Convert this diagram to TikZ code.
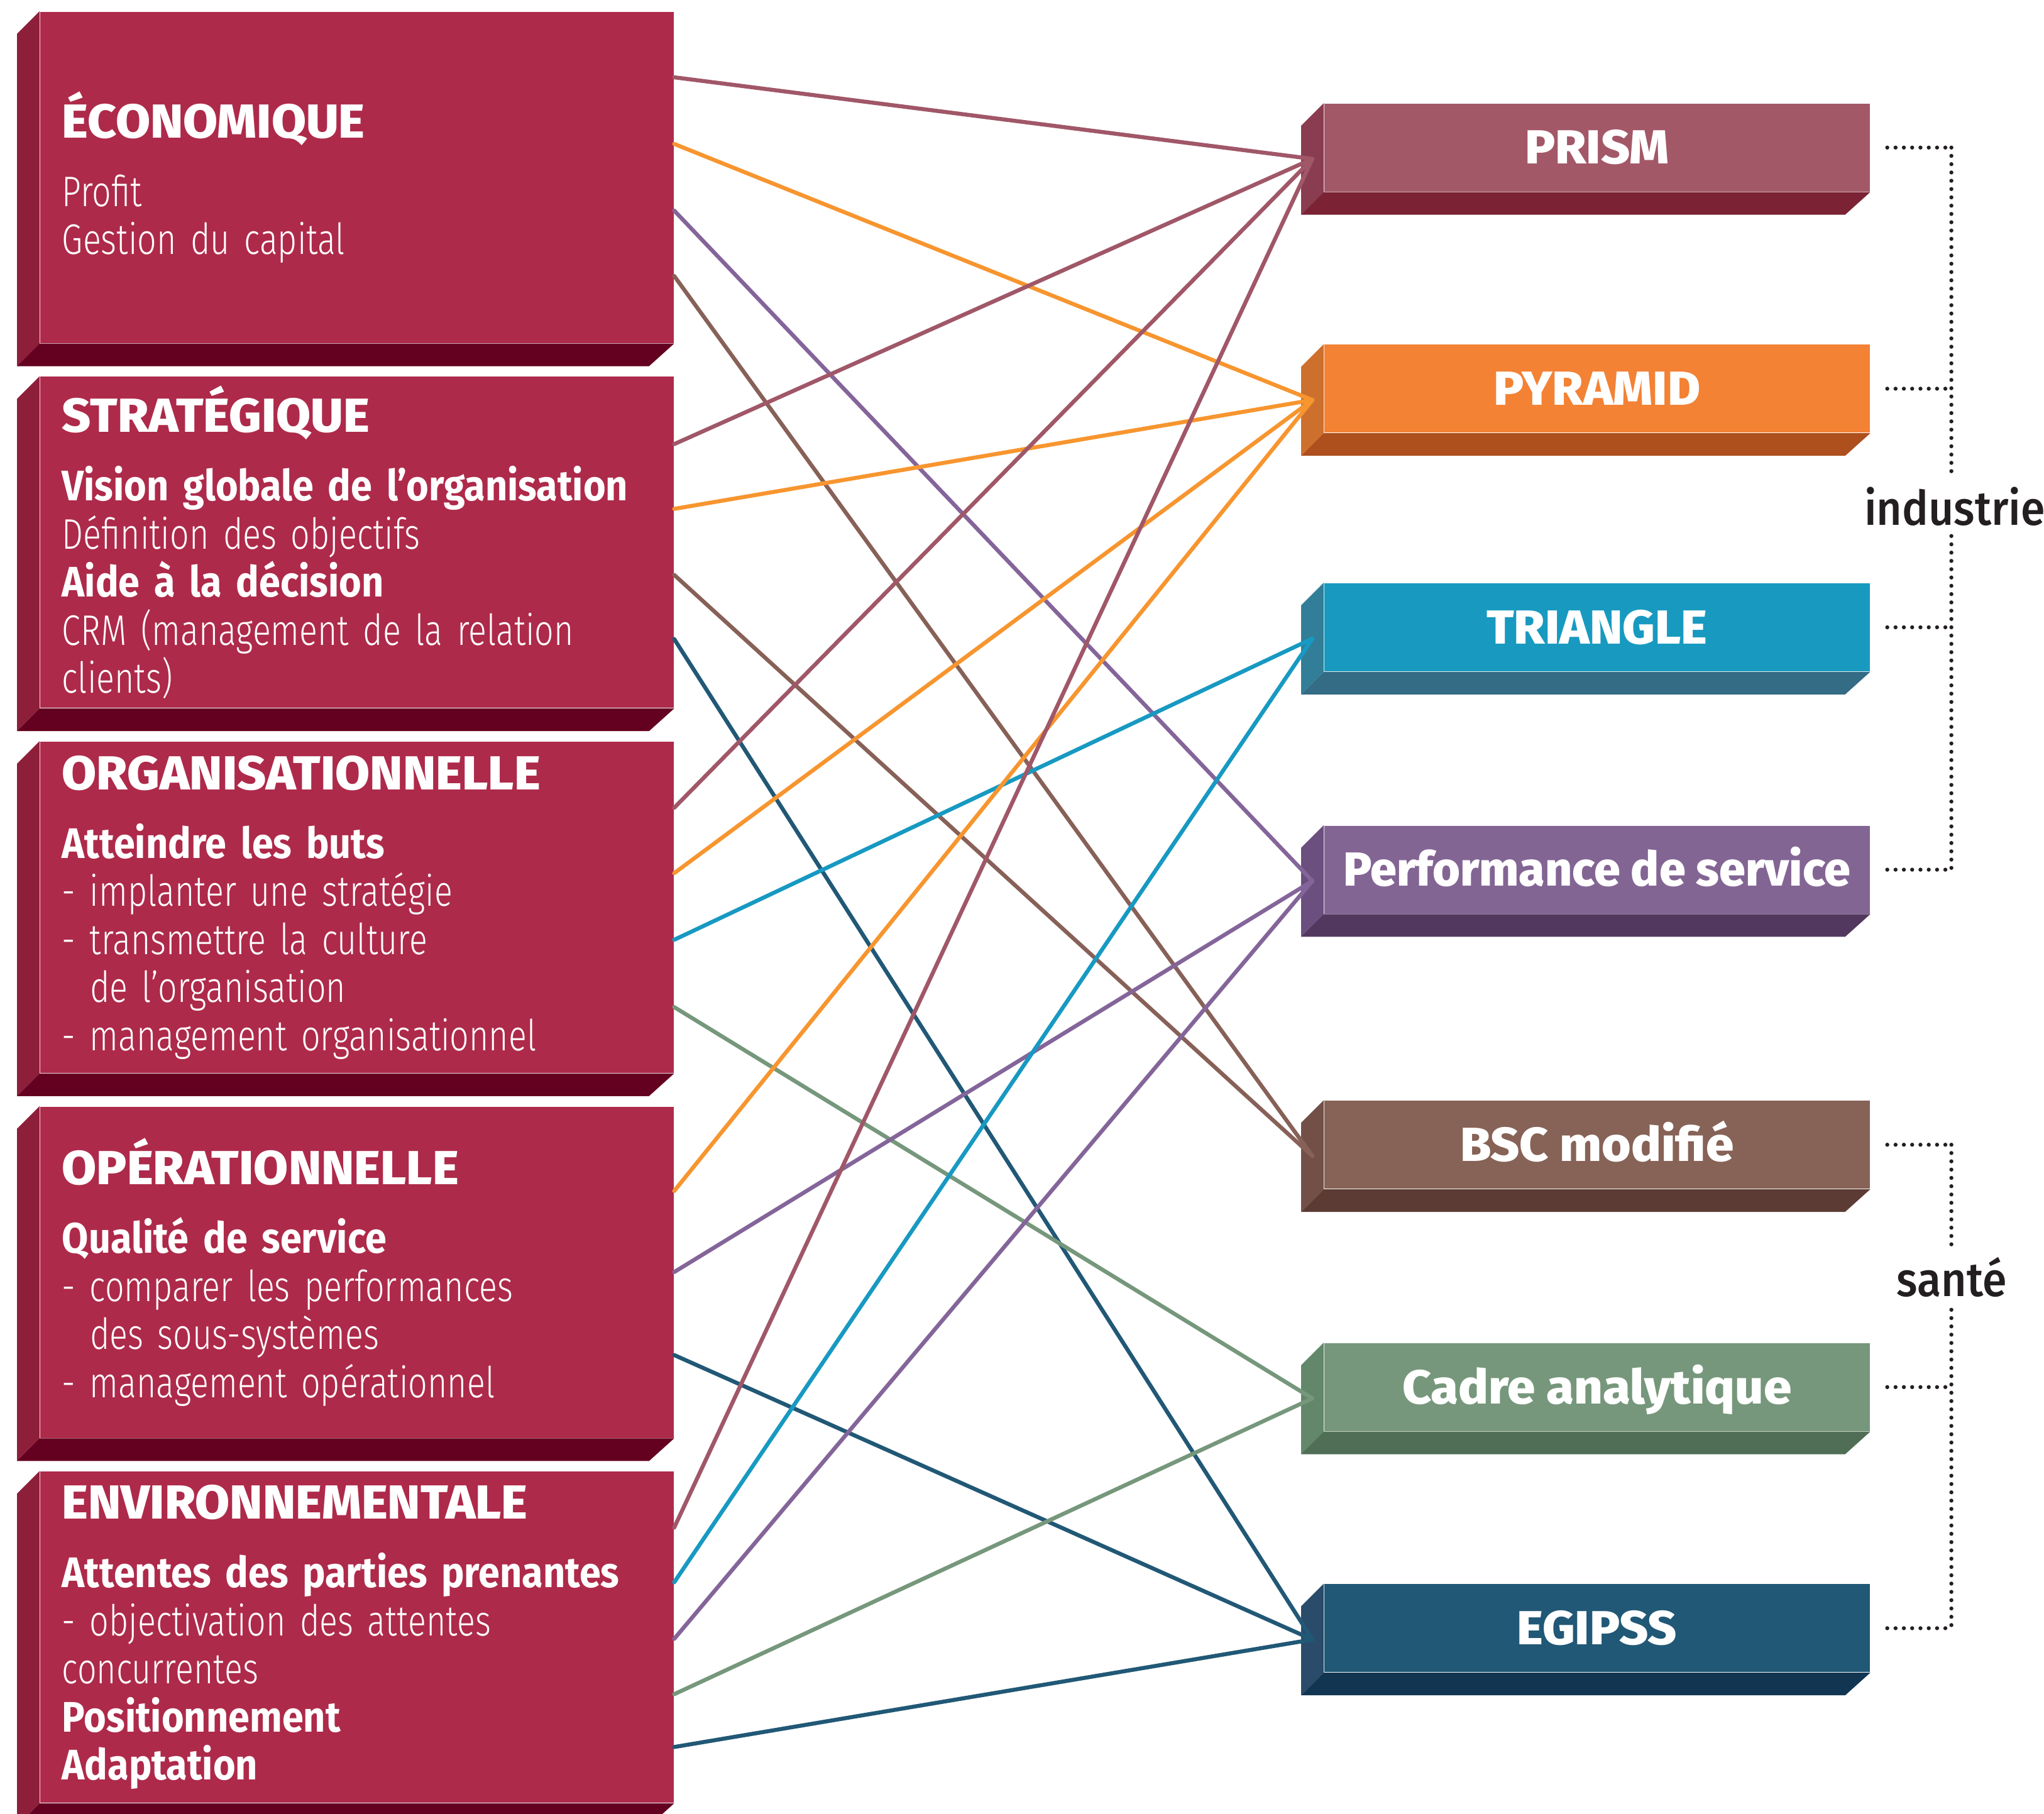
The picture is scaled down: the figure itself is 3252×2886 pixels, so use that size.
\documentclass[tikz,border=0pt]{standalone}
\usepackage{fontspec}
\usepackage{tikz}
\usetikzlibrary{positioning, calc}

\setmainfont{Fira Sans Light}[FakeStretch=0.79]
\IfFontExistsTF{Fira Sans Heavy}
  {\newfontfamily\headfont{Fira Sans Heavy}[FakeStretch=1.0]}
  {\newfontfamily\headfont{Fira Sans ExtraBold}[FakeStretch=1.05]}
\newfontfamily\keyfont{Fira Sans Bold}[FakeStretch=0.9]
\newfontfamily\sectorfont{Fira Sans Medium}[FakeStretch=0.92]

% colours of the blocks: front, side, bottom
\definecolor{dimFront}{HTML}{AE2A4A}
\definecolor{dimSide}{HTML}{8E1F3B}
\definecolor{dimBottom}{HTML}{640020}
\definecolor{prismFront}{HTML}{A35868}
\definecolor{prismSide}{HTML}{8A3D50}
\definecolor{prismBottom}{HTML}{7B2334}
\definecolor{pyramidFront}{HTML}{F38235}
\definecolor{pyramidSide}{HTML}{CE702D}
\definecolor{pyramidBottom}{HTML}{AE4F1E}
\definecolor{triangleFront}{HTML}{189AC0}
\definecolor{triangleSide}{HTML}{327E98}
\definecolor{triangleBottom}{HTML}{346B85}
\definecolor{perfFront}{HTML}{836594}
\definecolor{perfSide}{HTML}{6B4F7E}
\definecolor{perfBottom}{HTML}{52385F}
\definecolor{bscFront}{HTML}{876257}
\definecolor{bscSide}{HTML}{725048}
\definecolor{bscBottom}{HTML}{5B3B33}
\definecolor{cadreFront}{HTML}{76977B}
\definecolor{cadreSide}{HTML}{62876A}
\definecolor{cadreBottom}{HTML}{4F6E55}
\definecolor{egipssFront}{HTML}{215876}
\definecolor{egipssSide}{HTML}{2A4B6A}
\definecolor{egipssBottom}{HTML}{123652}
% colours of the links
\definecolor{prismLine}{HTML}{A05768}
\definecolor{pyramidLine}{HTML}{F7952F}
\definecolor{triangleLine}{HTML}{1799C2}
\definecolor{perfLine}{HTML}{84659A}
\definecolor{bscLine}{HTML}{876158}
\definecolor{cadreLine}{HTML}{76977B}
\definecolor{egipssLine}{HTML}{215876}
\definecolor{dotGrey}{HTML}{231F20}

\newcommand{\dimhead}[1]{{\headfont\fontsize{19}{19.125}\selectfont #1}\\[8.125pt]}
\newcommand{\keyline}[1]{{\keyfont #1}}

\tikzstyle{dimBox} = [rectangle, fill=dimFront, text=white, align=left,
   minimum height=131.75pt, text width=234.5pt, inner xsep=8.75pt,
   inner ysep=0pt, font=\fontsize{17}{19.125}\selectfont]
\tikzstyle{modelBox} = [rectangle, text=white, minimum width=217pt,
   minimum height=35pt, inner sep=0pt, text height=13.1pt, text depth=0pt,
   font=\headfont\fontsize{19}{19}\selectfont]
\tikzstyle{link} = [line width=1.6pt, line cap=round]
\tikzstyle{dotLine} = [dotGrey, line width=1.6pt, line cap=round,
   dash pattern=on 0pt off 3.3pt]
\tikzstyle{sector} = [text=dotGrey, inner sep=0pt,
   font=\sectorfont\fontsize{19}{19}\selectfont]

\begin{document}
\begin{tikzpicture}[x=0.25pt, y=-0.25pt]
  \useasboundingbox (0,0) rectangle (3252,2886);

  % dimensions
  \node[dimBox, anchor=north west] (eco) at (63,18) {\dimhead{ÉCONOMIQUE}
    Profit\\
    Gestion du capital};
  \node[dimBox, below=13pt of eco] (strat) {\dimhead{STRATÉGIQUE}
    \keyline{Vision globale de l’organisation}\\
    Définition des objectifs\\
    \keyline{Aide à la décision}\\
    CRM (management de la relation\\
    clients)};
  \node[dimBox, below=13pt of strat] (orga) {\dimhead{ORGANISATIONNELLE}
    \keyline{Atteindre les buts}\\
    - implanter une stratégie\\
    - transmettre la culture\\
    \hphantom{- }de l’organisation\\
    - management organisationnel};
  \node[dimBox, below=13pt of orga] (oper) {\dimhead{OPÉRATIONNELLE}
    \keyline{Qualité de service}\\
    - comparer les performances\\
    \hphantom{- }des sous-systèmes\\
    - management opérationnel};
  \node[dimBox, below=13pt of oper] (env) {\dimhead{ENVIRONNEMENTALE}
    \keyline{Attentes des parties prenantes}\\
    - objectivation des attentes\\
    concurrentes\\
    \keyline{Positionnement}\\
    \keyline{Adaptation}};

  % models
  \node[modelBox, fill=prismFront, anchor=north west] (prism) at (2106,164) {PRISM};
  \node[modelBox, fill=pyramidFront, below=60.5pt of prism] (pyramid) {PYRAMID};
  \node[modelBox, fill=triangleFront, below=59.5pt of pyramid] (triangle) {TRIANGLE};
  \node[modelBox, fill=perfFront, below=61pt of triangle] (perf)
    {\addfontfeature{FakeStretch=0.99}Performance de service};
  \node[modelBox, fill=bscFront, below=74pt of perf] (bsc) {BSC modifié};
  \node[modelBox, fill=cadreFront, below=61pt of bsc] (cadre) {Cadre analytique};
  \node[modelBox, fill=egipssFront, below=60.5pt of cadre] (egipss) {EGIPSS};

  % side and bottom faces
  \foreach \blk/\col in {eco/dim, strat/dim, orga/dim, oper/dim, env/dim,
      prism/prism, pyramid/pyramid, triangle/triangle, perf/perf,
      bsc/bsc, cadre/cadre, egipss/egipss}{
    \fill[\col Side] (\blk.north west) -- ++(-36,36) -- ($(\blk.south west)+(-36,36)$)
      -- (\blk.south west) -- cycle;
    \fill[\col Bottom] (\blk.south west) -- ++(-36,36) -- ($(\blk.south east)+(-40,36)$)
      -- (\blk.south east) -- cycle;
  }

  % links
  \foreach \blk in {prism, pyramid, triangle, perf, bsc, cadre, egipss}
    \coordinate (\blk-in) at ($(\blk.west)+(-18,18)$);
  \foreach \src/\dy/\dst in {eco/105/prism, eco/211/pyramid, eco/317/perf, eco/421/bsc,
      strat/108/prism, strat/211/pyramid, strat/316/bsc, strat/418/egipss,
      orga/106/prism, orga/210/pyramid, orga/316/triangle, orga/423/cadre,
      oper/135/pyramid, oper/264/perf, oper/396/egipss,
      env/90/prism, env/177/triangle, env/267/perf, env/355/cadre, env/439/egipss}
    \draw[link, draw=\dst Line] ($(\src.north east)+(0,\dy)$) -- (\dst-in);

  % sectors
  \foreach \blk in {prism, pyramid, triangle, perf, bsc, cadre, egipss}{
    \coordinate (\blk-dot) at ($(\blk.east)+(27,0)$);
    \coordinate (\blk-bar) at ($(\blk.east)+(129,0)$);
    \draw[dotLine] (\blk-dot) -- (\blk-bar);
  }
  \node[sector, minimum height=23pt] (industrie) at (3110,806) {industrie};
  \node[sector, minimum height=25.5pt] (sante) at (3105,2032) {santé};
  \draw[dotLine] (prism-bar) -- (prism-bar |- industrie.north);
  \draw[dotLine] (prism-bar |- industrie.south) -- (perf-bar);
  \draw[dotLine] (bsc-bar) -- (bsc-bar |- sante.north);
  \draw[dotLine] (bsc-bar |- sante.south) -- (egipss-bar);
\end{tikzpicture}
\end{document}
